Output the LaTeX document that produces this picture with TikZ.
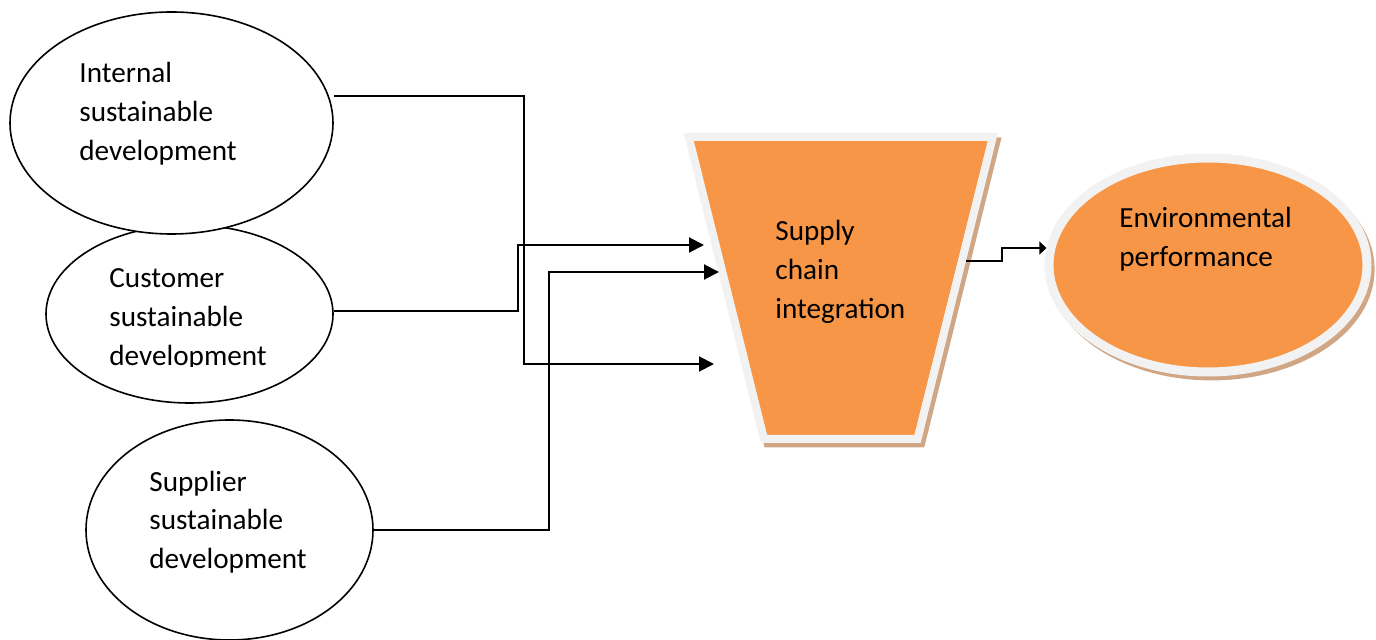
\documentclass[tikz,border=0pt]{standalone}
\usepackage{fontspec}
\setmainfont{Carlito}
\usetikzlibrary{shapes,arrows.meta,shadows,positioning}
\definecolor{orange}{RGB}{247,150,70}
\definecolor{rim}{RGB}{242,242,242}
\definecolor{shade}{RGB}{208,166,132}
\def\Sus{sustainable\\development}

\begin{document}
\begin{tikzpicture}[x=0.5pt,y=-0.5pt,% one unit = one pixel of the reference, y downwards
		every node/.style={
			align=left,		% so that "\\" breaks lines
			font=\fontsize{14.6}{19.5}\selectfont
		},
		oval/.style={ellipse,draw=black,line width=0.8pt,fill=white,inner sep=0pt},
		hot/.style={fill=orange,draw=rim,general shadow={fill=shade,draw=shade,line width=4pt,shadow xshift=1.8pt,shadow yshift=-2.2pt}},
		lbl/.style={inner sep=0pt,anchor=base west},	% base = last line
		link/.style={draw,line width=1pt,-{Triangle[length=7.5pt,width=7.5pt]}}
	]
	\useasboundingbox (0,0) rectangle (1376,640);
	% three sources
	\node[oval,minimum width=143.5pt,minimum height=89pt](cus) at (189.5,314) {};
	\node[oval,minimum width=161.5pt,minimum height=111pt](int) at (171.5,123) {};
	\node[oval,minimum width=143.5pt,minimum height=110pt](sup) at (229.5,530) {};
	\node[lbl](intT) at (79,161) {Internal\\\Sus};
	\begin{scope}
		\clip (0,0) rectangle (1376,367);
		\node[lbl](cusT) at (109,366) {Customer\\\Sus};
	\end{scope}
	\node[lbl](supT) at (149,569) {Supplier\\\Sus};
	% funnel and outcome (size from the inner seps: body 76.75pt x 151pt)
	\node[hot,trapezium,trapezium left angle=76,trapezium right angle=76,shape border rotate=180,
		inner xsep=38.375pt,inner ysep=75.5pt,line width=4pt](sci) at (840.75,288) {};
	\node[lbl](sciT) at (775,318.5) {Supply\\chain\\integration};
	\node[hot,ellipse,minimum width=159pt,minimum height=107pt,line width=4.5pt](env) at (1208,265) {};
	\node[lbl](envT) at (1119,267) {Environmental\\performance};
	% arrow ends in front of the funnel
	\coordinate (inA) at (704,245);
	\coordinate (inB) at (719,272);
	\coordinate (inC) at (714,364);
	\draw[link] (int.east |- 0,96) -- (524,96) |- (inC);
	\draw[link] (cus.east |- 0,311) -- (518,311) |- (inA);
	\draw[link] (sup.east) -- (549,530) |- (inB);
	\draw[link,-{Triangle[length=3.5pt,width=6.5pt]}] (sci.12) -- ++(36,0) |- (env.174);
\end{tikzpicture}
\end{document}
